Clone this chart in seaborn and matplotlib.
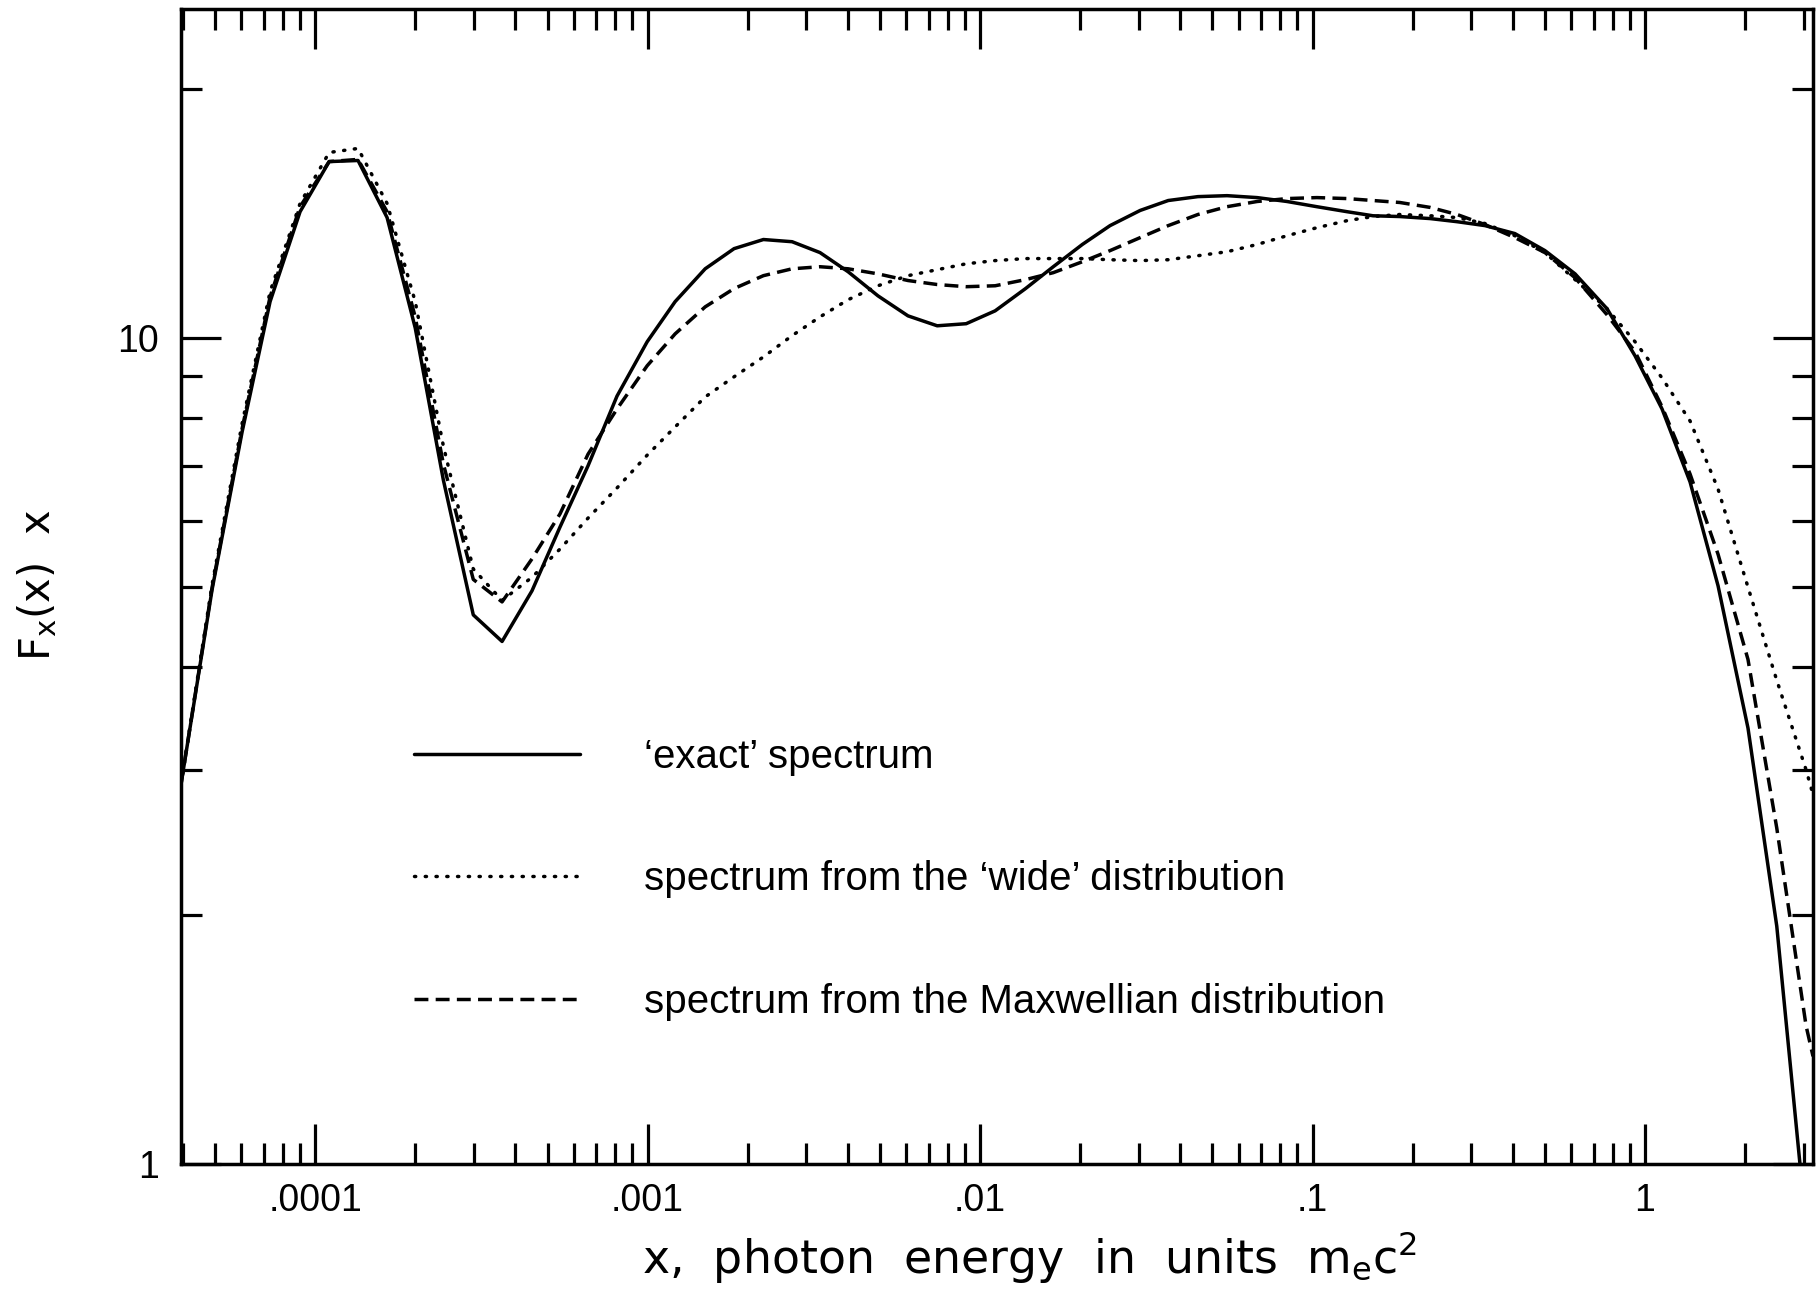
import numpy as np
import pandas as pd
import matplotlib
matplotlib.use("Agg")
import matplotlib.pyplot as plt
from matplotlib.ticker import LogLocator, NullFormatter
import seaborn as sns

# Photon energy grid (units of m_e c^2)
energy = [3.95e-5, 4.90e-5, 6.03e-5, 7.32e-5, 9.01e-5, 1.102e-4, 1.346e-4, 1.646e-4,
          2.00e-4, 2.43e-4, 2.99e-4, 3.65e-4, 4.49e-4, 5.45e-4, 6.62e-4, 8.09e-4,
          9.97e-4, 1.21e-3, 1.49e-3, 1.82e-3, 2.23e-3, 2.72e-3, 3.30e-3, 4.01e-3,
          4.93e-3, 6.07e-3, 7.43e-3, 9.08e-3, 1.11e-2, 1.37e-2, 1.66e-2, 2.03e-2,
          2.46e-2, 3.03e-2, 3.68e-2, 4.52e-2, 5.53e-2, 6.81e-2, 8.38e-2, 0.103,
          0.127, 0.152, 0.183, 0.226, 0.272, 0.330, 0.406, 0.500, 0.616, 0.769,
          0.933, 1.125, 1.366, 1.658, 2.04, 2.49, 3.05, 3.2]

# F_x(x) x for the three spectra
exact = [2.88, 4.96, 7.69, 11.06, 14.21, 16.34, 16.39, 13.98, 10.28, 6.73,
         4.62, 4.29, 4.94, 5.90, 7.00, 8.50, 9.89, 11.06, 12.12, 12.82,
         13.15, 13.07, 12.68, 12.02, 11.24, 10.63, 10.34, 10.40, 10.78, 11.47,
         12.19, 12.97, 13.67, 14.26, 14.66, 14.82, 14.86, 14.78, 14.62, 14.41,
         14.21, 14.05, 14.02, 13.94, 13.82, 13.67, 13.37, 12.75, 11.95, 10.84,
         9.51, 8.20, 6.69, 5.01, 3.37, 1.94, 0.84, 0.62]

wide = [2.88, 5.03, 7.87, 11.37, 14.54, 16.76, 16.95, 14.54, 11.06, 7.40,
        5.25, 4.81, 5.13, 5.55, 6.05, 6.58, 7.21, 7.80, 8.48, 8.97,
        9.48, 10.06, 10.60, 11.12, 11.56, 11.89, 12.09, 12.29, 12.40, 12.47,
        12.47, 12.47, 12.43, 12.40, 12.43, 12.57, 12.71, 12.97, 13.29, 13.59,
        13.86, 14.02, 14.10, 14.05, 13.98, 13.75, 13.29, 12.68, 11.76, 10.84,
        9.89, 8.94, 7.93, 6.56, 4.99, 3.85, 3.00, 2.80]

maxwellian = [2.88, 4.99, 7.76, 11.21, 14.41, 16.34, 16.44, 14.21, 10.60, 7.04,
              5.10, 4.79, 5.40, 6.12, 7.23, 8.20, 9.25, 10.11, 10.90, 11.47,
              11.89, 12.12, 12.19, 12.12, 11.95, 11.73, 11.60, 11.53, 11.56, 11.76,
              11.99, 12.36, 12.75, 13.22, 13.67, 14.10, 14.41, 14.62, 14.74, 14.78,
              14.74, 14.66, 14.58, 14.38, 14.10, 13.71, 13.22, 12.68, 11.82, 10.66,
              9.62, 8.25, 6.84, 5.47, 4.08, 2.55, 1.47, 1.35]

labels = ["\u2018exact\u2019 spectrum",
          "spectrum from the \u2018wide\u2019 distribution",
          "spectrum from the Maxwellian distribution"]

x_major = [1e-4, 1e-3, 1e-2, 1e-1, 1]
x_major_labels = [".0001", ".001", ".01", ".1", "1"]
y_major = [1, 10]
y_major_labels = ["1", "10"]

sns.set_style("ticks")
plt.rcParams["font.family"] = ["Liberation Sans", "DejaVu Sans"]
plt.rcParams["text.color"] = "black"
plt.rcParams["axes.labelcolor"] = "black"
plt.rcParams["xtick.color"] = "black"
plt.rcParams["ytick.color"] = "black"

fig = plt.figure(figsize=(18.19, 12.91), dpi=100)
ax = fig.add_axes([181 / 1819, 1 - 1164 / 1291, (1813 - 181) / 1819, (1164 - 9) / 1291])

df = pd.DataFrame({"x": energy, "exact": exact, "wide": wide, "maxw": maxwellian})

lw = 2.5
sns.lineplot(data=df, x="x", y="exact", ax=ax, color="black", linewidth=lw,
             linestyle="-", label=labels[0], errorbar=None, legend=False)
sns.lineplot(data=df, x="x", y="wide", ax=ax, color="black", linewidth=lw,
             linestyle=(0, (0.35, 2.75)), dash_capstyle="round", label=labels[1],
             errorbar=None, legend=False)
sns.lineplot(data=df, x="x", y="maxw", ax=ax, color="black", linewidth=lw,
             linestyle=(0, (4.0, 2.1)), label=labels[2], errorbar=None, legend=False)

ax.set_xscale("log")
ax.set_yscale("log")
ax.set_xlim(3.95e-5, 3.2)
ax.set_ylim(1, 25)

ax.set_xticks(x_major, labels=x_major_labels)
ax.set_yticks(y_major, labels=y_major_labels)
ax.xaxis.set_minor_locator(LogLocator(base=10, subs=np.arange(2, 10), numticks=20))
ax.yaxis.set_minor_locator(LogLocator(base=10, subs=np.arange(2, 10), numticks=20))
ax.xaxis.set_minor_formatter(NullFormatter())
ax.yaxis.set_minor_formatter(NullFormatter())

ax.tick_params(which="both", direction="in", top=True, right=True,
               colors="black", labelcolor="black")
ax.tick_params(which="major", length=29, width=2.3, labelsize=27)
ax.tick_params(which="minor", length=15, width=2.3)
ax.tick_params(axis="x", which="major", pad=14)
ax.tick_params(axis="y", which="major", pad=16)
for s in ax.spines.values():
    s.set_linewidth(2.5)
    s.set_color("black")

ax.set_xlabel("")
ax.set_ylabel("")

label_font = ["DejaVu Sans"]
fig.text(1030 / 1819, 1 - 1273 / 1291,
         r"x,  photon  energy  in  units  m$_\mathregular{e}$c$^\mathregular{2}$",
         ha="center", va="baseline", fontsize=33, family=label_font, color="black")
fig.text(37 / 1819, 1 - 585 / 1291, r"F$_\mathregular{x}$(x)  x",
         rotation=90, ha="center", va="center", fontsize=30, family=label_font,
         color="black")

leg = ax.legend(loc="upper left", bbox_to_anchor=(0.1428, 0.369), frameon=False,
                fontsize=29, handlelength=4.12, handletextpad=1.6,
                labelspacing=2.1, borderpad=0, borderaxespad=0)
for t in leg.get_texts():
    t.set_color("black")

fig.savefig("out.png", dpi=100, facecolor="white")
